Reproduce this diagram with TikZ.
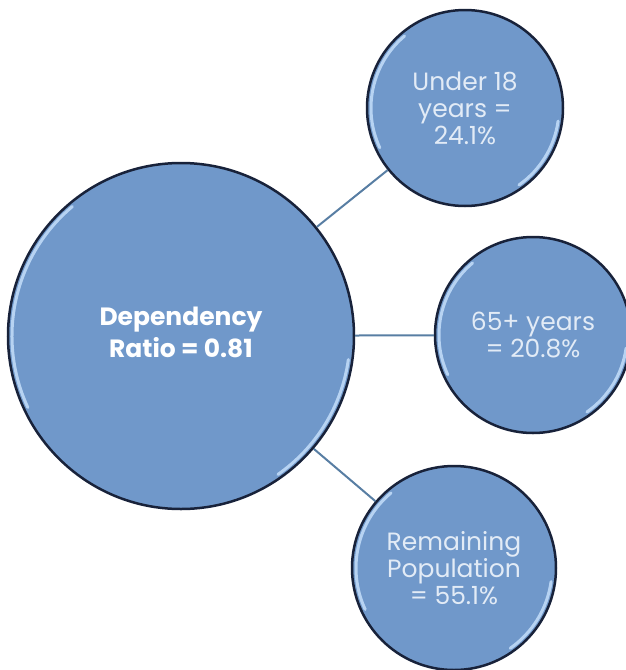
\documentclass[tikz,border=0pt]{standalone}
\usepackage{fontspec}
\setmainfont{Poppins}
\definecolor{kreisblau}{RGB}{112,152,202}
\definecolor{randblau}{RGB}{24,34,58}
\definecolor{linienblau}{RGB}{88,126,163}
\definecolor{glanz}{RGB}{196,222,250}
\definecolor{schrift}{RGB}{226,235,246}
\tikzset{
  kreis/.style={circle, fill=kreisblau, draw=randblau, line width=2.5pt,
    inner sep=0pt, align=center, text=schrift,
    font=\fontsize{25}{27}\selectfont},
  verbinder/.style={draw=linienblau, line width=2pt},
  glanzlicht/.style={draw=glanz, line width=3pt, line cap=round, opacity=0.85}
}
\begin{document}
\begin{tikzpicture}[x=1pt,y=-1pt]
  \useasboundingbox (0,0) rectangle (626,670);
  % Kreise
  \node[kreis, minimum size=346pt, text=white,
    font=\bfseries\fontsize{25}{32}\selectfont] (ratio) at (181,336)
    {Dependency\\Ratio = 0.81\\[-24pt]};
  \node[kreis, minimum size=196pt] (unter) at (465,108) {Under 18\\years =\\24.1\%};
  \node[kreis, minimum size=196pt] (alt) at (533,335) {65+ years\\= 20.8\%};
  \node[kreis, minimum size=204pt] (rest) at (454,568)
    {Remaining\\Population\\= 55.1\%};
  % Verbindungen
  \foreach \n in {unter,alt,rest}
  \draw[verbinder] (ratio) -- (\n);
  % Glanzlichter am Rand
  \foreach \n/\r in {ratio/169,unter/94,alt/94,rest/98}
  {
    \draw[glanzlicht] (\n.center) ++(130:\r pt)
      arc[start angle=130, end angle=205, radius=\r pt];
    \draw[glanzlicht] (\n.center) ++(-8:\r pt)
      arc[start angle=-8, end angle=-55, radius=\r pt];
  }
\end{tikzpicture}
\end{document}
